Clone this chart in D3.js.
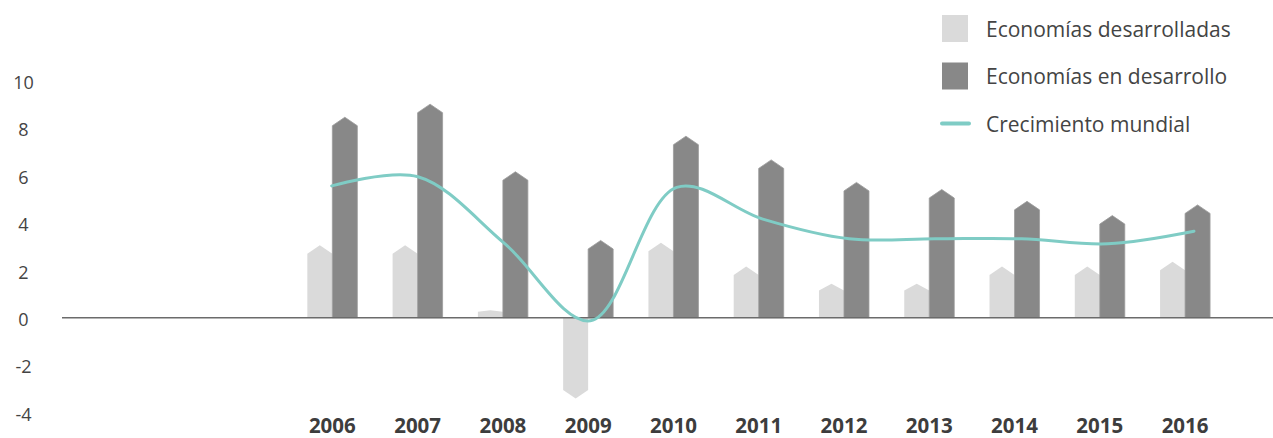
<!DOCTYPE html>
<html>
<head>
<meta charset="utf-8">
<script src="https://cdn.jsdelivr.net/npm/d3@7"></script>
<style>
  html, body { margin: 0; padding: 0; background: #ffffff; }
  svg { display: block; font-family: "Open Sans", "Noto Sans", sans-serif; }
</style>
</head>
<body>
<svg id="chart" width="1273" height="438"></svg>
<script>
const years = ["2006","2007","2008","2009","2010","2011","2012","2013","2014","2015","2016"];
const desarrolladas = [2.7, 2.7, 0.25, -3.05, 2.8, 1.8, 1.15, 1.15, 1.8, 1.8, 2.0];
const enDesarrollo = [8.1, 8.65, 5.8, 2.9, 7.3, 6.3, 5.35, 5.05, 4.55, 3.95, 4.4];
const mundial = [5.56, 5.95, 3.15, -0.13, 5.5, 4.16, 3.33, 3.33, 3.33, 3.12, 3.65];
const yTicks = [10, 8, 6, 4, 2, 0, -2, -4];
const legendLabels = ["Economías desarrolladas", "Economías en desarrollo", "Crecimiento mundial"];

const colors = { light: "#dadada", dark: "#888888", line: "#7fccc5", text: "#444444", axis: "#6b6b6b" };

const svg = d3.select("#chart");

const x = d3.scaleBand().domain(years).range([289.7, 1227.7]).padding(0);
const xLine = d3.scalePoint().domain(years).range([331.7, 1194]);
const y = d3.scaleLinear().domain([-4, 10]).range([412.5, 80.7]);
const barW = 25;

// Y axis labels
const yAxis = d3.axisLeft(y).tickValues(yTicks).tickSize(0).tickPadding(0).tickFormat(d => String(d));
const gy = svg.append("g").attr("transform", "translate(23.5,2)").call(yAxis);
gy.select(".domain").remove();
gy.selectAll("text")
  .attr("text-anchor", "middle")
  .attr("x", 0)
  .style("font-family", "'Open Sans', sans-serif")
  .style("font-size", "18px")
  .attr("fill", colors.text);

// Bar shapes with pointed ends
function barPath(x0, v) {
  const y0 = y(0), yv = y(v);
  const h = Math.abs(yv - y0);
  const dir = v >= 0 ? 1 : -1;
  const tip = Math.min(8.5, h * 0.25);
  return `M${x0},${y0}L${x0},${yv}L${x0 + barW / 2},${yv - dir * tip}L${x0 + barW},${yv}L${x0 + barW},${y0}Z`;
}

const center = d => x(d) + x.bandwidth() / 2;

svg.append("g").selectAll("path")
  .data(years)
  .join("path")
  .attr("d", (d, i) => barPath(center(d) - barW, desarrolladas[i]))
  .attr("fill", colors.light);

svg.append("g").selectAll("path")
  .data(years)
  .join("path")
  .attr("d", (d, i) => barPath(center(d), enDesarrollo[i]))
  .attr("fill", colors.dark)
  .attr("stroke", "#9c9c9c")
  .attr("stroke-width", 0.8);

// Zero line
svg.append("line")
  .attr("x1", 62).attr("x2", 1273)
  .attr("y1", y(0)).attr("y2", y(0))
  .attr("stroke", colors.axis).attr("stroke-width", 1.5);

// World growth line
const line = d3.line()
  .x((d, i) => xLine(years[i]))
  .y(d => y(d))
  .curve(d3.curveCatmullRom.alpha(0.5));
svg.append("path")
  .datum(mundial)
  .attr("d", line)
  .attr("fill", "none")
  .attr("stroke", colors.line)
  .attr("stroke-width", 3)
  .attr("stroke-linecap", "round");

// X axis labels
const xAxis = d3.axisBottom(x).tickSize(0).tickPadding(0);
const gx = svg.append("g").attr("transform", "translate(0,432.5)").call(xAxis);
gx.select(".domain").remove();
gx.selectAll("text")
  .style("font-family", "'Open Sans', sans-serif")
  .style("font-size", "20.5px")
  .style("font-weight", "bold")
  .attr("fill", "#3d3d3d")
  .attr("dy", "0")
  .attr("y", 0);

// Legend
const legend = svg.append("g");
const legendY = [28.5, 76, 123.5];
legend.append("rect").attr("x", 942).attr("y", legendY[0] - 13.5).attr("width", 26).attr("height", 27).attr("fill", colors.light);
legend.append("rect").attr("x", 942).attr("y", legendY[1] - 13.5).attr("width", 26).attr("height", 27).attr("fill", colors.dark);
legend.append("line").attr("x1", 942).attr("x2", 969).attr("y1", legendY[2]).attr("y2", legendY[2])
  .attr("stroke", colors.line).attr("stroke-width", 4).attr("stroke-linecap", "round");
legend.selectAll("text")
  .data(legendLabels)
  .join("text")
  .attr("x", 986)
  .attr("y", (d, i) => legendY[i] + 1)
  .attr("dy", "0.35em")
  .style("font-size", "21px")
  .attr("fill", colors.text)
  .text(d => d);
</script>
</body>
</html>
